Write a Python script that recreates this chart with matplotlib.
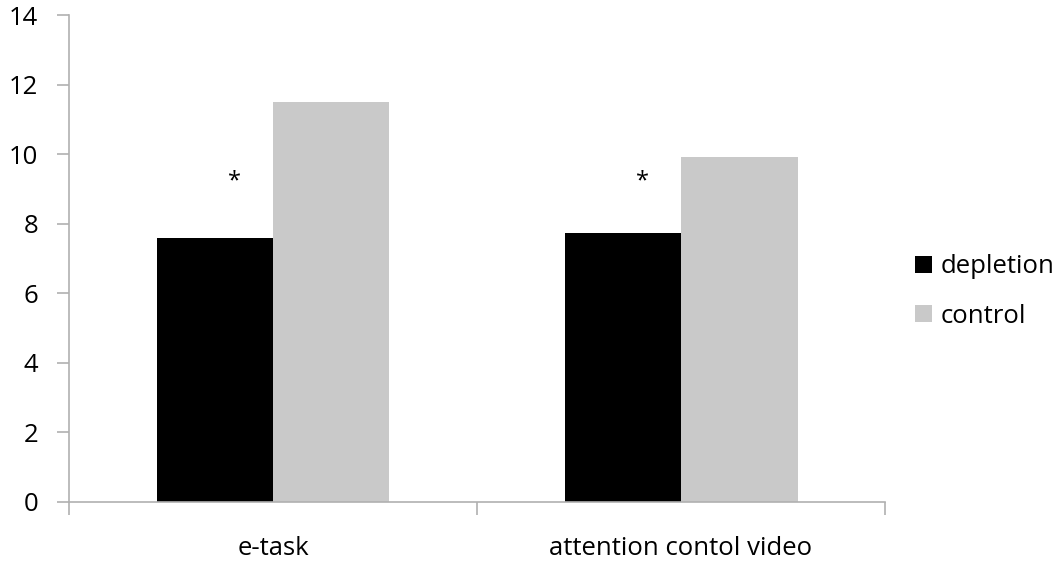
import matplotlib
matplotlib.use("Agg")
import matplotlib.pyplot as plt
import numpy as np

categories = ["e-task", "attention contol video"]
depletion = [7.6, 7.73]
control = [11.5, 9.92]
star_y = [9.22, 9.22]
series_names = ["depletion", "control"]
colors = ["#000000", "#c9c9c9"]

plt.rcParams["font.family"] = ["Open Sans", "DejaVu Sans"]
fs = 18.5

fig = plt.figure(figsize=(10.63, 5.69), dpi=100)
ax = fig.add_axes([0.0649, 0.1183, 0.8326 - 0.0649, 0.9731 - 0.1183])

x = np.arange(len(categories))
w = 0.2855
ax.bar(x - w / 2, depletion, w, color=colors[0], label=series_names[0])
ax.bar(x + w / 2, control, w, color=colors[1], label=series_names[1])
for xi, yi in zip(x, star_y):
    ax.text(xi - 0.095, yi, "*", ha="center", va="center", fontsize=17)

ax.set_xlim(-0.5, len(categories) - 0.5)
ax.set_ylim(0, 14)
ax.set_yticks(range(0, 15, 2))
ax.set_xticks(np.arange(len(categories) + 1) - 0.5)
ax.set_xticklabels([])
ax.set_xticks(x, minor=True)
ax.set_xticklabels(categories, minor=True)

for s in ["top", "right"]:
    ax.spines[s].set_visible(False)
for s in ["left", "bottom"]:
    ax.spines[s].set_color("#b0b0b0")
    ax.spines[s].set_linewidth(1.2)
ax.tick_params(axis="y", length=9, color="#b0b0b0", width=1.2, labelsize=fs, pad=13)
ax.tick_params(axis="x", which="major", length=9, color="#b0b0b0", width=1.2)
ax.tick_params(axis="x", which="minor", length=0, labelsize=fs, pad=25)

fig.legend(loc="center left", bbox_to_anchor=(0.8515, 0.488), frameon=False,
           fontsize=fs, handlelength=0.65, handleheight=0.65, handletextpad=0.35,
           labelspacing=0.95, borderaxespad=0)

fig.savefig("out.png", dpi=100)
